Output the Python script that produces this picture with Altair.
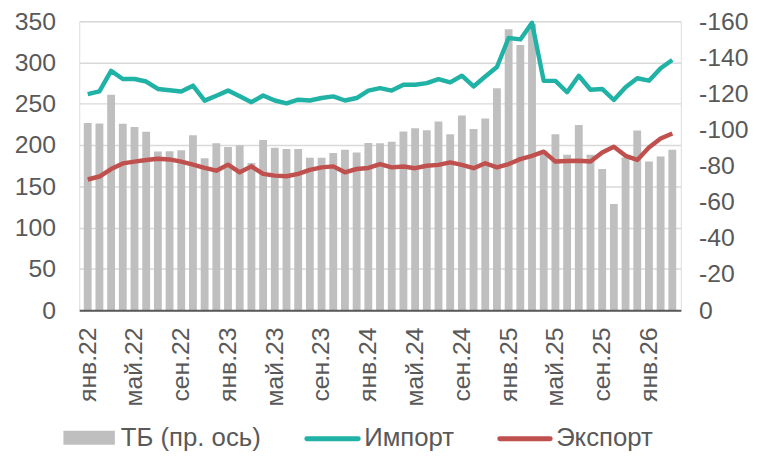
import altair as alt
import pandas as pd

months = [
    "янв.22", "фев.22", "мар.22", "апр.22", "май.22", "июн.22", "июл.22", "авг.22", "сен.22", "окт.22", "ноя.22", "дек.22",
    "янв.23", "фев.23", "мар.23", "апр.23", "май.23", "июн.23", "июл.23", "авг.23", "сен.23", "окт.23", "ноя.23", "дек.23",
    "янв.24", "фев.24", "мар.24", "апр.24", "май.24", "июн.24", "июл.24", "авг.24", "сен.24", "окт.24", "ноя.24", "дек.24",
    "янв.25", "фев.25", "мар.25", "апр.25", "май.25", "июн.25", "июл.25", "авг.25", "сен.25", "окт.25", "ноя.25", "дек.25",
    "янв.26", "фев.26", "мар.26",
]
shown_labels = ["янв.22", "май.22", "сен.22", "янв.23", "май.23", "сен.23", "янв.24",
                "май.24", "сен.24", "янв.25", "май.25", "сен.25", "янв.26"]

tb = [-103.7, -103.4, -119.3, -103.2, -101.4, -98.8, -87.8, -88.0, -88.6, -96.8, -84.2, -92.4,
      -90.4, -91.3, -81.5, -94.2, -90.0, -89.3, -89.3, -84.4, -84.4, -87.1, -88.8, -87.3,
      -92.6, -92.4, -93.2, -99.0, -100.8, -99.7, -104.5, -97.4, -107.8, -100.3, -106.1, -122.9,
      -155.6, -146.8, -158.5, -88.0, -97.4, -86.0, -102.6, -86.0, -78.2, -58.8, -84.6, -99.5,
      -82.4, -85.1, -88.9]

imports = [261.7, 265, 289.8, 280, 280, 277, 268, 266.5, 265, 272, 253.8, 259.8,
           266, 259, 252, 260, 254, 250.6, 255, 254, 257, 259, 254, 257,
           266, 269, 266, 273, 273, 275, 280, 276, 284, 271, 283, 294.6,
           329.7, 328, 348, 277.8, 277.8, 264, 284, 267, 268, 254.6, 270, 281,
           278, 293, 303]

exports = [158.3, 161.9, 171, 177.8, 179.9, 181.9, 183.5, 182.6, 179.9, 176.3, 172.3, 169,
           176.3, 167, 174.2, 165.1, 163, 162.2, 165.1, 169.9, 173, 174.2, 167, 171,
           172.3, 177, 173, 174, 172, 175, 176, 179, 176, 172, 178, 173,
           177, 183, 187, 192, 180, 180.6, 181, 180, 191, 198, 187, 182,
           197, 208, 214]

legend_names = ["ТБ (пр. ось)", "Импорт", "Экспорт"]
bar_color = "#BFBFBF"
imp_color = "#21B2A6"
exp_color = "#C0504D"
text_color = "#595959"
FONT = "Liberation Sans"
FS = 25
LFS = 26

df_bar = pd.DataFrame({"m": months, "tb": tb})
df_line = pd.concat([
    pd.DataFrame({"m": months, "series": legend_names[1], "v": imports}),
    pd.DataFrame({"m": months, "series": legend_names[2], "v": exports}),
])

x_enc = alt.X(
    "m:N", sort=months, title=None,
    scale=alt.Scale(paddingInner=0.33, paddingOuter=0.39),
    axis=alt.Axis(values=shown_labels, labelAngle=-90, ticks=False, domain=True,
                  domainColor=text_color, domainWidth=2, labelPadding=17,
                  labelFont=FONT, labelFontSize=FS, labelColor=text_color, zindex=1),
)

bars = alt.Chart(df_bar).mark_bar(color=bar_color).encode(
    x=x_enc,
    y=alt.Y("tb:Q", title=None, scale=alt.Scale(domain=[-160, 0], reverse=True, nice=False),
            axis=alt.Axis(orient="right", values=list(range(0, -161, -20)), grid=False,
                          ticks=False, domain=False, labelPadding=18,
                          labelExpr="'' + datum.value",
                          labelFont=FONT, labelFontSize=FS, labelColor=text_color)),
)

lines = alt.Chart(df_line).mark_line(strokeWidth=4.5, strokeJoin="round").encode(
    x=x_enc,
    y=alt.Y("v:Q", title=None, scale=alt.Scale(domain=[0, 350], nice=False),
            axis=alt.Axis(orient="left", values=list(range(0, 351, 50)), grid=True,
                          gridColor="#D9D9D9", gridWidth=1.5, ticks=False, domain=False,
                          labelPadding=24, labelFont=FONT, labelFontSize=FS,
                          labelColor=text_color)),
    color=alt.Color("series:N", scale=alt.Scale(domain=legend_names[1:], range=[imp_color, exp_color]),
                    legend=None),
)

one = pd.DataFrame({"a": [0]})
LY = 422
leg_rect = alt.Chart(one).mark_rect(color=bar_color).encode(
    x=alt.value(-16), x2=alt.value(36), y=alt.value(414), y2=alt.value(428))
leg_imp = alt.Chart(one).mark_rule(color=imp_color, strokeWidth=5, strokeCap="round").encode(
    x=alt.value(230), x2=alt.value(282), y=alt.value(LY))
leg_exp = alt.Chart(one).mark_rule(color=exp_color, strokeWidth=5, strokeCap="round").encode(
    x=alt.value(425), x2=alt.value(476), y=alt.value(LY))

def leg_text(name, xpos):
    return alt.Chart(one).mark_text(text=name, align="left", baseline="alphabetic",
                                    font=FONT, fontSize=LFS, color=text_color).encode(
        x=alt.value(xpos), y=alt.value(429))

chart = alt.layer(
    bars, lines, leg_rect, leg_imp, leg_exp,
    leg_text(legend_names[0], 42), leg_text(legend_names[1], 288), leg_text(legend_names[2], 482),
).resolve_scale(y="independent").properties(
    width=608, height=292,
    autosize=alt.AutoSizeParams(type="none"),
    padding={"left": 72, "top": 11, "right": 76, "bottom": 145},
).configure_view(stroke=None).configure(background="white")

chart.save("out.html", embed_options={"renderer": "svg", "actions": False})
